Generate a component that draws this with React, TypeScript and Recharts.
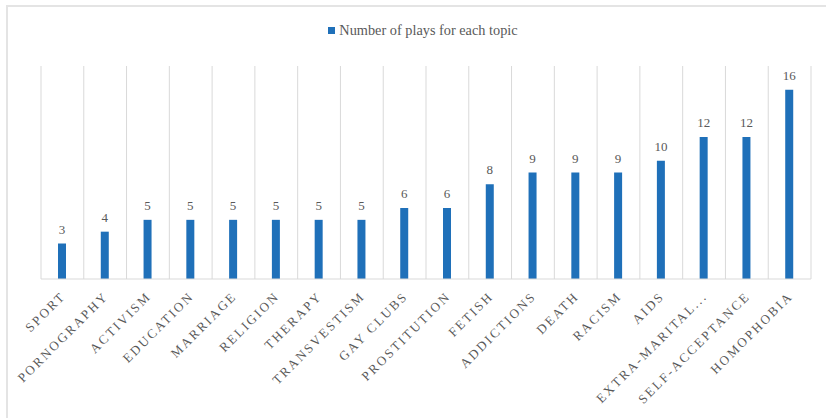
import React from "react";
import { BarChart, Bar, XAxis, YAxis, CartesianGrid, Legend, LabelList } from "recharts";

const topics = [
  "SPORT", "PORNOGRAPHY", "ACTIVISM", "EDUCATION", "MARRIAGE", "RELIGION", "THERAPY",
  "TRANSVESTISM", "GAY CLUBS", "PROSTITUTION", "FETISH", "ADDICTIONS", "DEATH", "RACISM",
  "AIDS", "EXTRA-MARITAL...", "SELF-ACCEPTANCE", "HOMOPHOBIA",
];
const plays = [3, 4, 5, 5, 5, 5, 5, 5, 6, 6, 8, 9, 9, 9, 10, 12, 12, 16];
const seriesName = "Number of plays for each topic";

const data = topics.map((t, i) => ({ topic: t, plays: plays[i] }));

const FONT = "'Liberation Serif', 'DejaVu Serif', serif";
const BLUE = "#1f70b9";
const GRID = "#d9d9d9";
const TEXT = "#595959";

const Tick = (props: any) => {
  const { x, y, payload } = props;
  return (
    <g transform={`translate(${x + 4},${y + 10})`}>
      <text
        x={0}
        y={0}
        transform="rotate(-45)"
        textAnchor="end"
        fill={TEXT}
        fontFamily={FONT}
        fontSize={13}
        letterSpacing={2.2}
      >
        {payload.value}
      </text>
    </g>
  );
};

const LegendContent = () => (
  <div style={{ display: "flex", justifyContent: "center", alignItems: "center", fontFamily: FONT, fontSize: 14.3, color: TEXT, paddingRight: 6 }}>
    <span style={{ display: "inline-block", width: 7, height: 7, background: BLUE, marginRight: 4 }} />
    <span>{seriesName}</span>
  </div>
);

export default function App() {
  const verticalGen = ({ offset }: any) => {
    const n = topics.length;
    const out: number[] = [];
    for (let i = 0; i <= n; i++) out.push(offset.left + (i * offset.width) / n);
    return out;
  };
  return (
    <div style={{ position: "absolute", left: 0, top: 0, width: 826, height: 418, background: "#fff", overflow: "hidden" }}>
      <div style={{ position: "absolute", left: 6, top: 5, width: 900, height: 500, borderLeft: `2px solid #e4e4e4`, borderTop: `2px solid #e4e4e4` }} />
      <div style={{ position: "absolute", left: 0, top: 0 }}>
        <BarChart width={826} height={418} data={data} margin={{ top: 49, right: 15, bottom: 9, left: 41 }} barCategoryGap={0}>
          <CartesianGrid horizontal={false} vertical stroke={GRID} verticalCoordinatesGenerator={verticalGen} />
          <XAxis dataKey="topic" interval={0} height={130} tickLine={false} axisLine={{ stroke: GRID }} tick={<Tick />} />
          <YAxis hide domain={[0, 18]} />
          <Legend verticalAlign="top" content={<LegendContent />} wrapperStyle={{ top: 22 }} />
          <Bar dataKey="plays" name={seriesName} fill={BLUE} barSize={8} isAnimationActive={false}>
            <LabelList dataKey="plays" position="top" offset={10} fill={TEXT} fontFamily={FONT} fontSize={13} />
          </Bar>
        </BarChart>
      </div>
    </div>
  );
}
